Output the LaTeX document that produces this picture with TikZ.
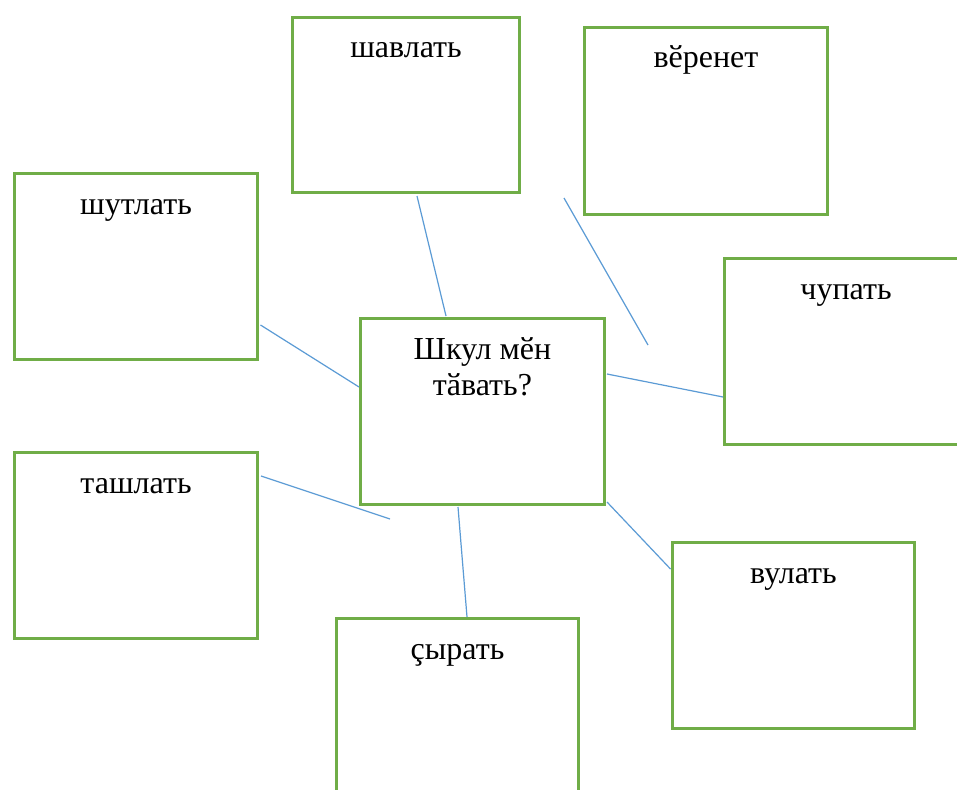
\documentclass[tikz,border=0pt]{standalone}
\usepackage{fontspec}
\setmainfont{Liberation Serif}
\usetikzlibrary{calc}
\definecolor{boxgreen}{HTML}{70AD47}
\definecolor{lineblue}{HTML}{5B9BD5}
\tikzset{
  wordbox/.style={draw=boxgreen, line width=3pt, inner sep=0pt, outer sep=0pt, rectangle},
  wordtext/.style={anchor=base, inner sep=0pt, align=center, font=\fontsize{32}{36}\selectfont},
  link/.style={draw=lineblue, line width=1.2pt}
}
\begin{document}
\begin{tikzpicture}[x=1pt, y=-1pt]
\useasboundingbox (0,0) rectangle (957,789);
\clip (0,0) rectangle (957,789);
\fill[white] (0,0) rectangle (957,789);
% boxes
\node[wordbox, minimum width=227pt, minimum height=175pt] (b1) at (406,105) {};
\node[wordbox, minimum width=243pt, minimum height=187pt] (b2) at (706,121) {};
\node[wordbox, minimum width=243pt, minimum height=186pt] (b3) at (136,266.5) {};
\node[wordbox, minimum width=244pt, minimum height=186pt] (c)  at (482.5,411.5) {};
\node[wordbox, minimum width=243pt, minimum height=186pt] (b4) at (846,351.5) {};
\node[wordbox, minimum width=243pt, minimum height=186pt] (b5) at (136,545.5) {};
\node[wordbox, minimum width=242pt, minimum height=186pt] (b6) at (457.5,711.5) {};
\node[wordbox, minimum width=242pt, minimum height=186pt] (b7) at (793.5,635.5) {};
% texts
\node[wordtext] (t1) at ([yshift=-40.5pt]b1.north) {шавлать};
\node[wordtext] (t2) at ([yshift=-40.5pt]b2.north) {вӗренет};
\node[wordtext] (t3) at ([yshift=-40.5pt]b3.north) {шутлать};
\node[wordtext, anchor=north] (tc) at ([yshift=-18.5pt]c.north) {Шкул мӗн\\тӑвать?};
\node[wordtext] (t4) at ([yshift=-40.5pt]b4.north) {чупать};
\node[wordtext] (t5) at ([yshift=-40.5pt]b5.north) {ташлать};
\node[wordtext] (t6) at ([yshift=-40.5pt]b6.north) {çырать};
\node[wordtext] (t7) at ([yshift=-40.5pt]b7.north) {вулать};
% free ends
\coordinate (f2a) at (564,198);
\coordinate (f2b) at (648,345);
\coordinate (f5) at (390,519);
% connectors
\draw[link] ($(b1.south)+(11,3.5)$) -- ($(c.north)+(-36.5,-2.5)$);
\draw[link] (f2a) -- (f2b);
\draw[link] ($(b3.east)+(3,58.5)$) -- ($(c.west)+(-1.5,-24.5)$);
\draw[link] ($(c.east)+(2.5,-37.5)$) -- ($(b4.west)+(-1.5,45.5)$);
\draw[link] ($(b5.east)+(3.5,-69.5)$) -- (f5);
\draw[link] ($(c.south)+(-24.5,2.5)$) -- ($(b6.north)+(9.5,-1.5)$);
\draw[link] ($(c.south east)+(2.5,-2.5)$) -- ($(b7.west)+(-2,-66.5)$);
\end{tikzpicture}
\end{document}
